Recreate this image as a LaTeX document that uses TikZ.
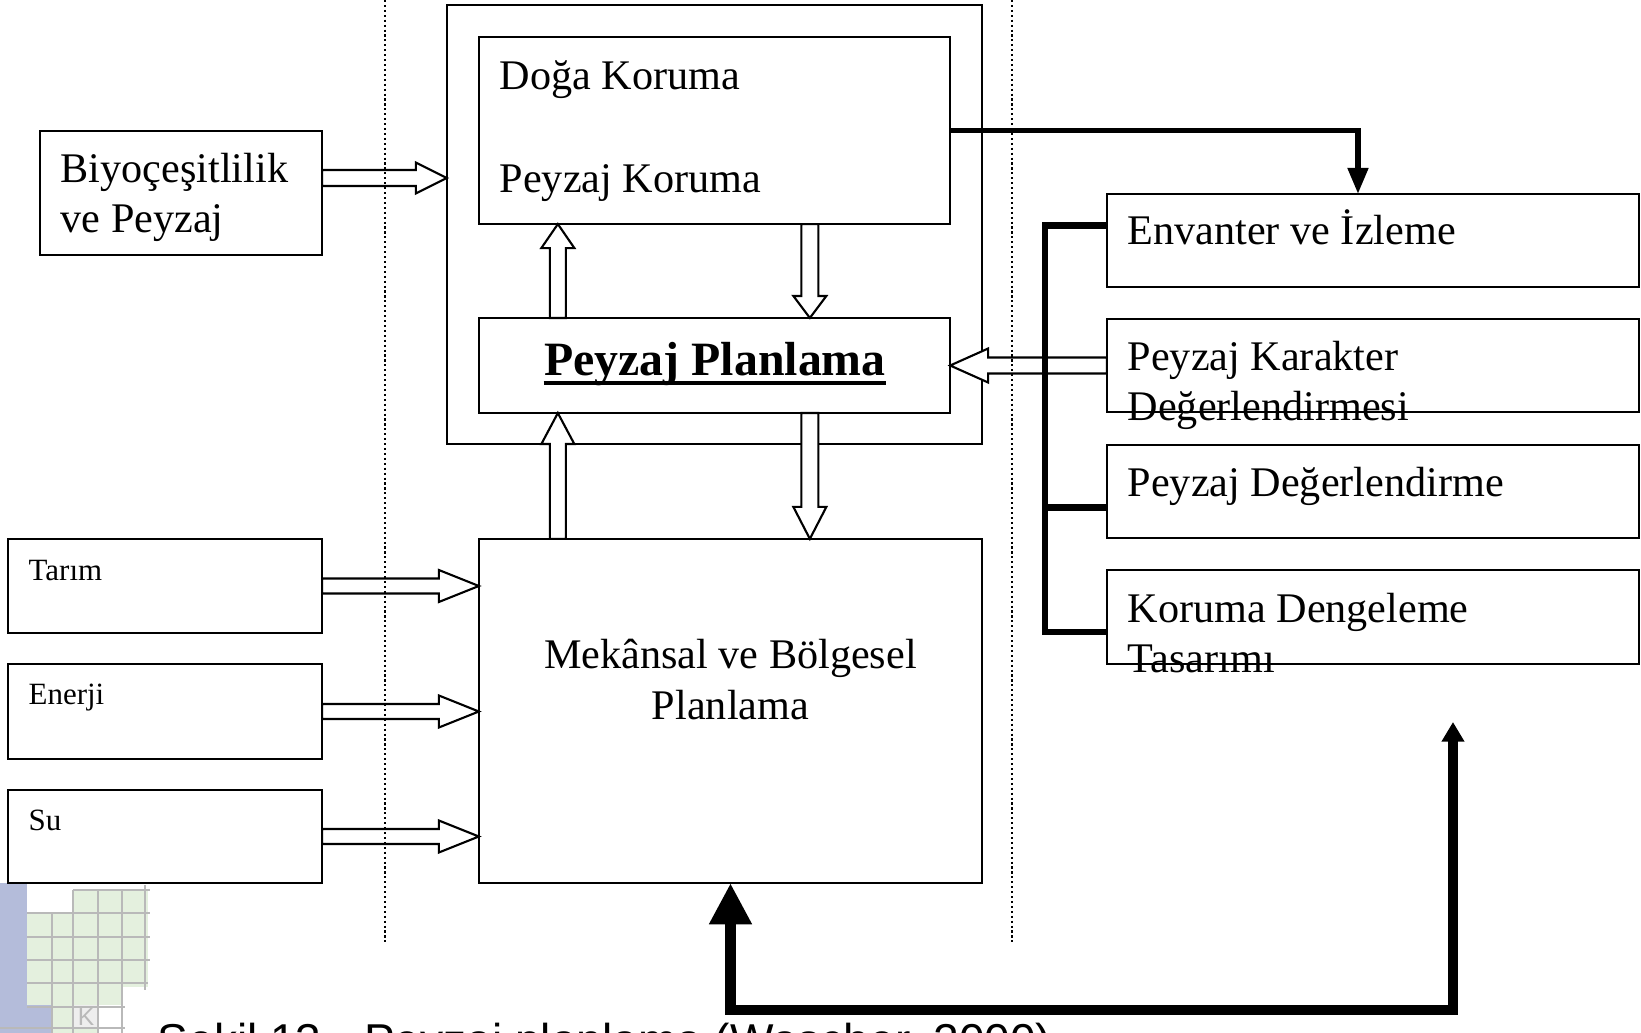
\documentclass[tikz,border=0pt]{standalone}
\usepackage{fontspec}
\setmainfont{Liberation Serif}
\newfontfamily\capfont{Liberation Sans}
\usetikzlibrary{calc,arrows.meta}
\definecolor{logoblue}{RGB}{180,188,218}
\definecolor{logogreen}{RGB}{228,240,222}
\definecolor{gridgray}{RGB}{185,185,185}
\definecolor{kgray}{RGB}{238,238,238}
\newcommand{\hollowarrow}[5]{%
  \path (#1) coordinate (ha) (#2) coordinate (hb);
  \path ($(hb)!#5!(ha)$) coordinate (hc);
  \draw[hol] ($(ha)!#3!90:(hb)$) -- ($(hc)!#3!90:(hb)$) -- ($(hc)!#4!90:(hb)$) -- (hb)
    -- ($(hc)!#4!-90:(hb)$) -- ($(hc)!#3!-90:(hb)$) -- ($(ha)!#3!-90:(hb)$) -- cycle;
}
\begin{document}
\begin{tikzpicture}[x=0.01cm,y=-0.01cm,
  box/.style={draw,line width=0.6pt,inner sep=0pt,outer sep=0pt},
  lbl/.style={inner sep=0pt,anchor=base west,font=\fontsize{12}{14}\selectfont},
  clbl/.style={inner sep=0pt,anchor=base,font=\fontsize{12}{14}\selectfont},
  smalllbl/.style={inner sep=0pt,anchor=base west,font=\fontsize{8.8}{10}\selectfont},
  hol/.style={draw,line width=0.6pt,fill=white,line join=miter},
  brk/.style={line width=1.8pt,line join=miter},
  sepline/.style={line width=0.85pt,dash pattern=on 0.6pt off 0.8pt},
  gridln/.style={draw=gridgray,line width=0.35pt}]
\useasboundingbox (0,0) rectangle (1641,1033);
\fill[white] (0,0) rectangle (1641,1033);

% logo (bottom left)
\fill[logoblue] (0,883) rectangle (27,1033);
\fill[logoblue] (27,1005) rectangle (52,1033);
\fill[logogreen] (73,890) rectangle (148,987);
\fill[logogreen] (27,913) rectangle (148,987);
\fill[logogreen] (27,987) rectangle (122,1005);
\fill[logogreen] (52,1005) rectangle (98,1033);
\fill[kgray] (73,1005) rectangle (98,1028);
\foreach \yy/\xa/\xb in {890/73/150, 913/27/150, 937/27/150, 960/27/150, 983/27/148, 1007/27/125, 1028/0/125}
  \draw[gridln] (\xa,\yy) -- (\xb,\yy);
\foreach \xx/\ya/\yb in {52/913/1033, 73/890/1033, 98/890/1033, 122/890/1033, 145/885/990}
  \draw[gridln] (\xx,\ya) -- (\xx,\yb);
\node[inner sep=0pt,text=gridgray,font=\capfont\fontsize{7}{8}\selectfont] (klogo) at (86,1017) {K};

% boxes
\node[box,minimum width=5.35cm,minimum height=4.39cm] (outer) at (714.5,224.5) {};
\node[box,minimum width=4.71cm,minimum height=1.87cm] (doga) at (714.5,130.5) {};
\node[box,minimum width=4.71cm,minimum height=0.95cm] (pp) at (714.5,365.5) {};
\node[box,minimum width=2.82cm,minimum height=1.24cm] (biyo) at (181,193) {};
\node[box,minimum width=5.03cm,minimum height=3.44cm] (mek) at (730.5,711) {};
\node[box,minimum width=3.14cm,minimum height=0.94cm] (tarim) at (165,586) {};
\node[box,minimum width=3.14cm,minimum height=0.95cm] (enerji) at (165,711.5) {};
\node[box,minimum width=3.14cm,minimum height=0.93cm] (su) at (165,836.5) {};
\node[box,minimum width=5.32cm,minimum height=0.93cm] (env) at (1373,240.5) {};
\node[box,minimum width=5.32cm,minimum height=0.93cm] (kar) at (1373,365.5) {};
\node[box,minimum width=5.32cm,minimum height=0.93cm] (deg) at (1373,491.5) {};
\node[box,minimum width=5.32cm,minimum height=0.94cm] (kor) at (1373,617) {};

% texts
\node[lbl] (t1) at (499,89) {Doğa Koruma};
\node[lbl] (t2) at (499,192) {Peyzaj Koruma};
\node[lbl] (t3) at (60,182) {Biyoçeşitlilik};
\node[lbl] (t4) at (60,232) {ve Peyzaj};
\node[inner sep=0pt,anchor=base,font=\fontsize{13.6}{16}\selectfont\bfseries] (ppt) at (715,375) {Peyzaj Planlama};
\draw[line width=1.1pt] ($(ppt.base west)+(0,8)$) -- ($(ppt.base east)+(0,8)$);
\node[clbl] (t5) at (730.5,668) {Mekânsal ve Bölgesel};
\node[clbl] (t6) at (730.5,719) {Planlama};
\node[smalllbl] (t7) at (28,580) {Tarım};
\node[smalllbl] (t8) at (28,704) {Enerji};
\node[smalllbl] (t9) at (28,830) {Su};
\node[lbl] (t10) at (1127,244) {Envanter ve İzleme};
\node[lbl] (t11) at (1127,370) {Peyzaj Karakter};
\node[lbl] (t12) at (1127,420) {Değerlendirmesi};
\node[lbl] (t13) at (1127,496) {Peyzaj Değerlendirme};
\node[lbl] (t14) at (1127,622) {Koruma Dengeleme};
\node[lbl] (t15) at (1127,672) {Tasarımı};
\node[inner sep=0pt,anchor=base west,font=\capfont\fontsize{13.1}{15}\selectfont] (cap) at (157,1056) {Şekil 13 . Peyzaj planlama (Wascher, 2000)};

% hollow arrows
\path ($(biyo.east)+(0,-15)$) coordinate (a1);
\hollowarrow{a1}{a1 -| outer.west}{0.08cm}{0.155cm}{0.31cm}
\hollowarrow{tarim.east}{tarim.east -| mek.west}{0.075cm}{0.16cm}{0.40cm}
\hollowarrow{enerji.east}{enerji.east -| mek.west}{0.075cm}{0.16cm}{0.40cm}
\hollowarrow{su.east}{su.east -| mek.west}{0.075cm}{0.16cm}{0.40cm}
\hollowarrow{kar.west}{pp.east}{0.08cm}{0.17cm}{0.38cm}
\path ($(pp.north west)+(79,0)$) coordinate (v1) ($(doga.south west)+(331,0)$) coordinate (v2)
      ($(mek.north west)+(79,0)$) coordinate (v3) ($(pp.south west)+(331,0)$) coordinate (v4);
\hollowarrow{v1}{v1 |- doga.south}{0.08cm}{0.165cm}{0.24cm}
\hollowarrow{v2}{v2 |- pp.north}{0.085cm}{0.165cm}{0.22cm}
\hollowarrow{v3}{v3 |- pp.south}{0.08cm}{0.165cm}{0.31cm}
\hollowarrow{v4}{v4 |- mek.north}{0.085cm}{0.165cm}{0.32cm}

% bracket
\draw[brk] ($(env.west)+(0,-15)$) -| ($(kor.west)+(-62,15)$) -- ($(kor.west)+(0,15)$);
\draw[brk] ($(deg.west)+(-62,16)$) -- ($(deg.west)+(0,16)$);

% thick arrows
\draw[line width=1.6pt,line join=miter,-{Triangle[length=7.4pt,width=5.6pt]}] (doga.east) -| ([xshift=-0.15cm]env.north);
\coordinate (fb) at (1453,722);
\draw[line width=2.9pt,line join=miter,{Triangle[length=11.7pt,width=11.4pt]}-{Triangle[length=5.6pt,width=6.2pt]}] (mek.south) -- (730.5,1010) -| (fb);

% dotted separators
\draw[sepline] (385,0) -- (385,945);
\draw[sepline] (1012,0) -- (1012,945);
\end{tikzpicture}
\end{document}
